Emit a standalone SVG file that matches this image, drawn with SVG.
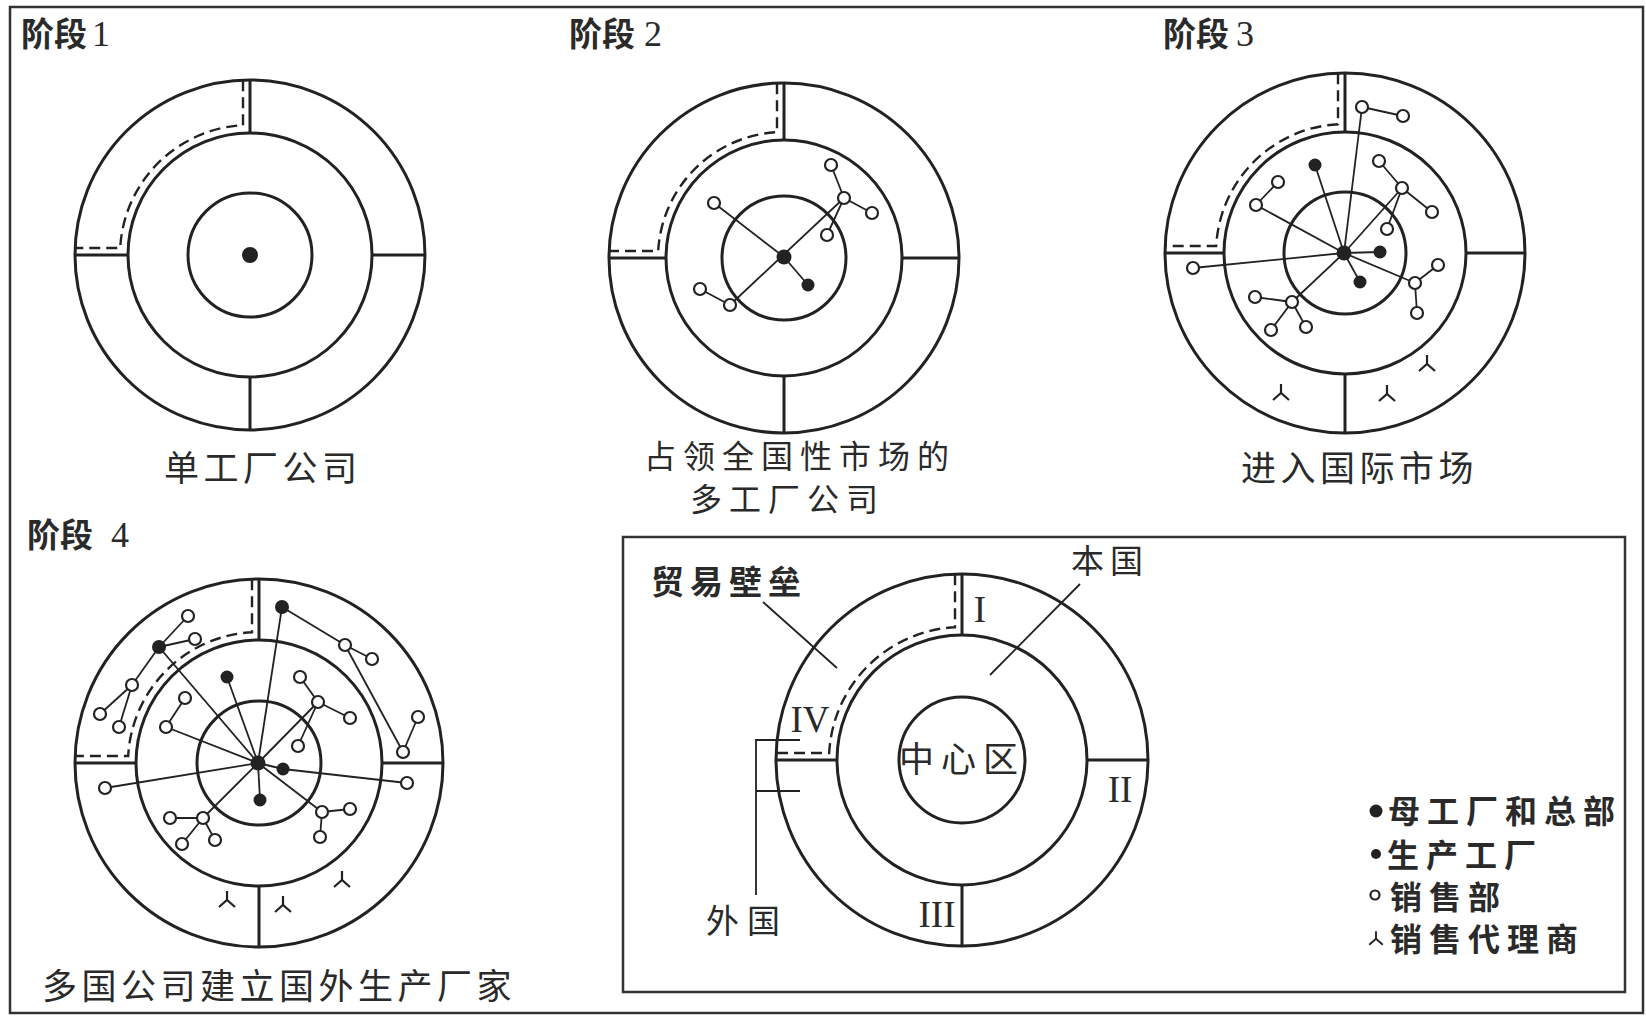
<svg xmlns="http://www.w3.org/2000/svg" width="1646" height="1017" viewBox="0 0 1646 1017">
<style>
.frame{fill:none;stroke:#333;stroke-width:2.5}
.ring{fill:none;stroke:#222;stroke-width:3}
.dv{stroke:#222;stroke-width:3}
.dash{fill:none;stroke:#222;stroke-width:2.4;stroke-dasharray:11 6}
.con line{stroke:#222;stroke-width:1.8}
.so{fill:#fff;stroke:#222;stroke-width:2.2}
.pf{fill:#222}
.ag{fill:none;stroke:#222;stroke-width:2.2}
.thin{stroke:#222;stroke-width:1.8;fill:none}
.cjk{font-family:'Noto Sans CJK SC','Noto Sans',sans-serif;fill:#2a2a2a}
.h{font-size:33px;font-weight:bold}
.cap{font-size:35px;letter-spacing:4.5px}
.cap2{font-size:32px;letter-spacing:7px}
.lab{font-size:33px}
.leg{font-size:32px;letter-spacing:7px;font-weight:bold}
.rn{font-family:'Liberation Serif',serif;font-size:37px;fill:#2a2a2a;text-anchor:middle}
.num{font-family:'Liberation Serif',serif;font-weight:normal;font-size:36px}
</style>
<defs>
<path id="agent" class="ag" d="M0,-8V1M-8,8L0,1L8,8"/>
</defs>
<rect class="frame" x="10" y="7" width="1633" height="1006"/>

<!-- Stage 1 -->
<g id="stage1">
<text class="cjk h" x="21" y="46">阶段<tspan class="num" x="92">1</tspan></text>
<g class="rings">
<circle class="ring" cx="250" cy="255" r="175"/>
<circle class="ring" cx="250" cy="255" r="122"/>
<circle class="ring" cx="250" cy="255" r="62"/>
<line class="dv" x1="250" y1="80" x2="250" y2="133"/>
<line class="dv" x1="250" y1="377" x2="250" y2="430"/>
<line class="dv" x1="75" y1="255" x2="128" y2="255"/>
<line class="dv" x1="372" y1="255" x2="425" y2="255"/>
<path class="dash" d="M243,80.14 V125.19 A130,130 0 0 0 120.19,248 H75.14"/>
</g>
<g id="s1-hq"><circle class="pf" cx="250" cy="255" r="8"/></g>
<text class="cjk cap" x="164" y="481">单工厂公司</text>
</g>

<!-- Stage 2 -->
<g id="stage2">
<text class="cjk h" x="569" y="46">阶段<tspan class="num" x="644">2</tspan></text>
<g class="rings">
<circle class="ring" cx="784" cy="258" r="175"/>
<circle class="ring" cx="784" cy="258" r="118"/>
<circle class="ring" cx="784" cy="258" r="62"/>
<line class="dv" x1="784" y1="83" x2="784" y2="140"/>
<line class="dv" x1="784" y1="376" x2="784" y2="433"/>
<line class="dv" x1="609" y1="258" x2="666" y2="258"/>
<line class="dv" x1="902" y1="258" x2="959" y2="258"/>
<path class="dash" d="M777,83.14 V132.19 A126,126 0 0 0 658.19,251 H609.14"/>
</g>
<g class="con" id="s2-connectors">
<line x1="714" y1="203" x2="784" y2="257"/>
<line x1="784" y1="257" x2="808" y2="285"/>
<line x1="730" y1="305" x2="844" y2="198"/>
<line x1="844" y1="198" x2="831" y2="165"/>
<line x1="844" y1="198" x2="872" y2="213"/>
<line x1="827" y1="235" x2="844" y2="198"/>
<line x1="700" y1="289" x2="730" y2="305"/>
</g>
<g id="s2-nodes">
<circle class="pf" cx="784" cy="257" r="7.5"/>
<circle class="pf" cx="808" cy="285" r="6.5"/>
<circle class="so" cx="714" cy="203" r="6"/>
<circle class="so" cx="844" cy="198" r="6"/>
<circle class="so" cx="831" cy="165" r="6"/>
<circle class="so" cx="872" cy="213" r="6"/>
<circle class="so" cx="827" cy="235" r="6"/>
<circle class="so" cx="730" cy="305" r="6"/>
<circle class="so" cx="700" cy="289" r="6"/>
</g>
<text class="cjk cap2" x="644" y="468">占领全国性市场的</text>
<text class="cjk cap2" x="690" y="511">多工厂公司</text>
</g>

<!-- Stage 3 -->
<g id="stage3">
<text class="cjk h" x="1163" y="46">阶段<tspan class="num" x="1236">3</tspan></text>
<g class="rings">
<circle class="ring" cx="1345" cy="253" r="180"/>
<circle class="ring" cx="1345" cy="253" r="121"/>
<circle class="ring" cx="1345" cy="253" r="61"/>
<line class="dv" x1="1345" y1="73" x2="1345" y2="132"/>
<line class="dv" x1="1345" y1="374" x2="1345" y2="433"/>
<line class="dv" x1="1165" y1="253" x2="1224" y2="253"/>
<line class="dv" x1="1466" y1="253" x2="1525" y2="253"/>
<path class="dash" d="M1338,73.14 V124.19 A129,129 0 0 0 1216.19,246 H1165.14"/>
</g>
<g class="con" id="s3-connectors">
<line x1="1344" y1="253" x2="1362" y2="107"/>
<line x1="1362" y1="107" x2="1403" y2="116"/>
<line x1="1344" y1="253" x2="1315" y2="165"/>
<line x1="1379" y1="161" x2="1402" y2="188"/>
<line x1="1402" y1="188" x2="1432" y2="212"/>
<line x1="1344" y1="253" x2="1402" y2="188"/>
<line x1="1387" y1="229" x2="1402" y2="188"/>
<line x1="1344" y1="253" x2="1380" y2="252"/>
<line x1="1344" y1="253" x2="1360" y2="282"/>
<line x1="1344" y1="253" x2="1415" y2="283"/>
<line x1="1415" y1="283" x2="1438" y2="265"/>
<line x1="1415" y1="283" x2="1417" y2="313"/>
<line x1="1256" y1="205" x2="1278" y2="182"/>
<line x1="1256" y1="205" x2="1344" y2="253"/>
<line x1="1344" y1="253" x2="1193" y2="268"/>
<line x1="1344" y1="253" x2="1292" y2="302"/>
<line x1="1292" y1="302" x2="1255" y2="297"/>
<line x1="1292" y1="302" x2="1271" y2="330"/>
<line x1="1292" y1="302" x2="1306" y2="327"/>
</g>
<g id="s3-nodes">
<circle class="pf" cx="1344" cy="253" r="7.5"/>
<circle class="pf" cx="1315" cy="165" r="6.5"/>
<circle class="pf" cx="1380" cy="252" r="6.5"/>
<circle class="pf" cx="1360" cy="282" r="6.5"/>
<circle class="so" cx="1362" cy="107" r="6"/>
<circle class="so" cx="1403" cy="116" r="6"/>
<circle class="so" cx="1379" cy="161" r="6"/>
<circle class="so" cx="1402" cy="188" r="6"/>
<circle class="so" cx="1432" cy="212" r="6"/>
<circle class="so" cx="1387" cy="229" r="6"/>
<circle class="so" cx="1415" cy="283" r="6"/>
<circle class="so" cx="1438" cy="265" r="6"/>
<circle class="so" cx="1417" cy="313" r="6"/>
<circle class="so" cx="1278" cy="182" r="6"/>
<circle class="so" cx="1256" cy="205" r="6"/>
<circle class="so" cx="1193" cy="268" r="6"/>
<circle class="so" cx="1292" cy="302" r="6"/>
<circle class="so" cx="1255" cy="297" r="6"/>
<circle class="so" cx="1271" cy="330" r="6"/>
<circle class="so" cx="1306" cy="327" r="6"/>
<use href="#agent" x="1281" y="392"/>
<use href="#agent" x="1387" y="393"/>
<use href="#agent" x="1427" y="363"/>
</g>
<text class="cjk cap" x="1241" y="481">进入国际市场</text>
</g>

<!-- Stage 4 -->
<g id="stage4">
<text class="cjk h" x="27" y="547">阶段<tspan class="num" x="111">4</tspan></text>
<g class="rings">
<circle class="ring" cx="259" cy="763" r="184"/>
<circle class="ring" cx="259" cy="763" r="123"/>
<circle class="ring" cx="259" cy="763" r="62"/>
<line class="dv" x1="259" y1="579" x2="259" y2="640"/>
<line class="dv" x1="259" y1="886" x2="259" y2="947"/>
<line class="dv" x1="75" y1="763" x2="136" y2="763"/>
<line class="dv" x1="382" y1="763" x2="443" y2="763"/>
<path class="dash" d="M252,579.13 V632.19 A131,131 0 0 0 128.19,756 H75.13"/>
</g>
<g class="con" id="s4-connectors">
<line x1="258" y1="763" x2="282" y2="607"/>
<line x1="282" y1="607" x2="345" y2="645"/>
<line x1="345" y1="645" x2="372" y2="659"/>
<line x1="345" y1="645" x2="403" y2="752"/>
<line x1="403" y1="752" x2="418" y2="717"/>
<line x1="258" y1="763" x2="159" y2="647"/>
<line x1="159" y1="647" x2="188" y2="616"/>
<line x1="159" y1="647" x2="195" y2="639"/>
<line x1="159" y1="647" x2="132" y2="685"/>
<line x1="132" y1="685" x2="100" y2="714"/>
<line x1="132" y1="685" x2="119" y2="727"/>
<line x1="258" y1="763" x2="227" y2="677"/>
<line x1="185" y1="698" x2="166" y2="727"/>
<line x1="166" y1="727" x2="258" y2="763"/>
<line x1="300" y1="677" x2="318" y2="702"/>
<line x1="318" y1="702" x2="350" y2="718"/>
<line x1="258" y1="763" x2="318" y2="702"/>
<line x1="298" y1="746" x2="318" y2="702"/>
<line x1="258" y1="763" x2="283" y2="769"/>
<line x1="283" y1="769" x2="407" y2="783"/>
<line x1="258" y1="763" x2="105" y2="788"/>
<line x1="258" y1="763" x2="260" y2="800"/>
<line x1="258" y1="763" x2="322" y2="812"/>
<line x1="322" y1="812" x2="350" y2="809"/>
<line x1="322" y1="812" x2="320" y2="837"/>
<line x1="258" y1="763" x2="203" y2="818"/>
<line x1="203" y1="818" x2="170" y2="818"/>
<line x1="203" y1="818" x2="182" y2="844"/>
<line x1="203" y1="818" x2="215" y2="840"/>
</g>
<g id="s4-nodes">
<circle class="pf" cx="258" cy="763" r="7.5"/>
<circle class="pf" cx="282" cy="607" r="7"/>
<circle class="pf" cx="159" cy="647" r="7"/>
<circle class="pf" cx="227" cy="677" r="6.5"/>
<circle class="pf" cx="283" cy="769" r="6.5"/>
<circle class="pf" cx="260" cy="800" r="6.5"/>
<circle class="so" cx="345" cy="645" r="6"/>
<circle class="so" cx="372" cy="659" r="6"/>
<circle class="so" cx="403" cy="752" r="6"/>
<circle class="so" cx="418" cy="717" r="6"/>
<circle class="so" cx="188" cy="616" r="6"/>
<circle class="so" cx="195" cy="639" r="6"/>
<circle class="so" cx="132" cy="685" r="6"/>
<circle class="so" cx="100" cy="714" r="6"/>
<circle class="so" cx="119" cy="727" r="6"/>
<circle class="so" cx="185" cy="698" r="6"/>
<circle class="so" cx="166" cy="727" r="6"/>
<circle class="so" cx="300" cy="677" r="6"/>
<circle class="so" cx="318" cy="702" r="6"/>
<circle class="so" cx="350" cy="718" r="6"/>
<circle class="so" cx="298" cy="746" r="6"/>
<circle class="so" cx="407" cy="783" r="6"/>
<circle class="so" cx="105" cy="788" r="6"/>
<circle class="so" cx="322" cy="812" r="6"/>
<circle class="so" cx="350" cy="809" r="6"/>
<circle class="so" cx="320" cy="837" r="6"/>
<circle class="so" cx="203" cy="818" r="6"/>
<circle class="so" cx="170" cy="818" r="6"/>
<circle class="so" cx="182" cy="844" r="6"/>
<circle class="so" cx="215" cy="840" r="6"/>
<use href="#agent" x="227" y="899"/>
<use href="#agent" x="283" y="904"/>
<use href="#agent" x="342" y="879"/>
</g>
<text class="cjk cap" x="42" y="999">多国公司建立国外生产厂家</text>
</g>

<!-- Key -->
<g id="key">
<rect class="frame" x="623" y="537" width="1002" height="455"/>
<g class="rings">
<circle class="ring" cx="962" cy="760" r="186"/>
<circle class="ring" cx="962" cy="760" r="125"/>
<circle class="ring" cx="962" cy="760" r="63"/>
<line class="dv" x1="962" y1="574" x2="962" y2="635"/>
<line class="dv" x1="962" y1="885" x2="962" y2="946"/>
<line class="dv" x1="776" y1="760" x2="837" y2="760"/>
<line class="dv" x1="1087" y1="760" x2="1148" y2="760"/>
<path class="dash" d="M955,574.13 V627.18 A133,133 0 0 0 829.18,753 H776.13"/>
</g>
<g id="key-leaders">
<line class="thin" x1="763" y1="602" x2="837" y2="668"/>
<line class="thin" x1="1080" y1="584" x2="990" y2="675"/>
<path class="thin" d="M800,740 H756 V895 M756,791 H800"/>
</g>
<text class="cjk lab" x="651" y="594" style="letter-spacing:6px;font-weight:bold">贸易壁垒</text>
<text class="cjk lab" x="1071" y="573" style="letter-spacing:6px">本国</text>
<text class="cjk" x="899" y="772" style="font-size:35px;letter-spacing:7px">中心区</text>
<text class="cjk lab" x="706" y="933" style="letter-spacing:8px">外国</text>
<text class="rn" x="980" y="622">I</text>
<text class="rn" x="1120" y="802">II</text>
<text class="rn" x="937" y="927">III</text>
<text class="rn" x="810" y="732">IV</text>
<g id="legend">
<circle class="pf" cx="1376" cy="811" r="6.5"/>
<text class="cjk leg" x="1388" y="823">母工厂和总部</text>
<circle class="pf" cx="1376" cy="854" r="5"/>
<text class="cjk leg" x="1387" y="867">生产工厂</text>
<circle class="so" cx="1375" cy="895" r="4.5"/>
<text class="cjk leg" x="1390" y="909">销售部</text>
<use href="#agent" x="1376" y="938" transform="translate(1376 938) scale(0.85) translate(-1376 -938)"/>
<text class="cjk leg" x="1390" y="951">销售代理商</text>
</g>
</g>
</svg>
